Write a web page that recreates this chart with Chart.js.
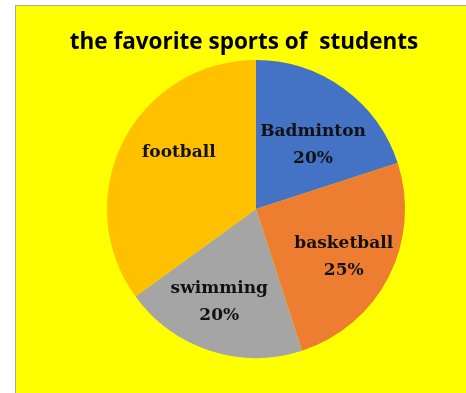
<!DOCTYPE html>
<html>
<head>
<meta charset="utf-8">
<script src="https://cdn.jsdelivr.net/npm/chart.js@4"></script>
<style>
  body { margin: 0; background: #ffffff; }
  #marco {
    position: absolute; left: 15px; top: 5px;
    width: 451px; height: 388px;
    border-left: 1px solid #a6a6a6; border-top: 1px solid #a6a6a6;
    background: #ffff00;
  }
  canvas { display: block; }
</style>
</head>
<body>
<div id="marco"><canvas id="graficoPastel" width="450" height="387"></canvas></div>
<script>
// Datos del grafico
const deportes = ['Badminton', 'basketball', 'swimming', 'football'];
const porcentajes = [20, 25, 20, 35];
const mostrarValor = [true, true, true, false];
const colores = ['#4472C4', '#ED7D31', '#A5A5A5', '#FFC000'];
const titulo = 'the favorite sports of  students';

// Ajuste de la posicion de cada etiqueta (fraccion del radio, giro en grados)
const ajusteEtiquetas = [
    { frac: 0.573, giro: 5.9 },
    { frac: 0.67, giro: 1.5 },
    { frac: 0.67, giro: 3.6 },
    { frac: 0.64, giro: 9 }
];

//Plugin para el titulo
const pluginTitulo = {
    id: 'pluginTitulo',
    afterDraw(chart) {
        const ctx = chart.ctx;
        ctx.save();
        ctx.font = 'bold 22.5px "Open Sans", sans-serif';
        ctx.fillStyle = '#000000';
        ctx.textAlign = 'center';
        ctx.textBaseline = 'middle';
        ctx.fillText(titulo, 228, 37);
        ctx.restore();
    }
};

//Plugin para las etiquetas de cada sector
const pluginEtiquetas = {
    id: 'pluginEtiquetas',
    afterDatasetsDraw(chart) {
        const ctx = chart.ctx;
        const meta = chart.getDatasetMeta(0);
        ctx.save();
        ctx.font = 'bold 17px "DejaVu Serif", serif';
        ctx.fillStyle = '#111111';
        ctx.textAlign = 'center';
        ctx.textBaseline = 'middle';
        meta.data.forEach((arco, i) => {
            const aj = ajusteEtiquetas[i];
            const medio = (arco.startAngle + arco.endAngle) / 2 + aj.giro * Math.PI / 180;
            const r = arco.outerRadius * aj.frac;
            const x = arco.x + r * Math.cos(medio);
            const y = arco.y + r * Math.sin(medio);
            const lineas = [deportes[i]];
            if (mostrarValor[i]) lineas.push(porcentajes[i] + '%');
            const alto = 27;
            lineas.forEach((texto, j) => {
                ctx.fillText(texto, x, y + (j - (lineas.length - 1) / 2) * alto);
            });
        });
        ctx.restore();
    }
};

const ctx = document.getElementById('graficoPastel').getContext('2d');
new Chart(ctx, {
    type: 'pie',
    data: {
        labels: deportes,
        datasets: [{
            data: porcentajes,
            backgroundColor: colores,
            borderWidth: 0
        }]
    },
    options: {
        responsive: false,
        animation: false,
        layout: {
            padding: { top: 54, bottom: 35, left: 91, right: 61 }
        },
        plugins: {
            legend: { display: false },
            tooltip: { enabled: false },
            title: { display: false }
        }
    },
    plugins: [pluginTitulo, pluginEtiquetas]
});
</script>
</body>
</html>
